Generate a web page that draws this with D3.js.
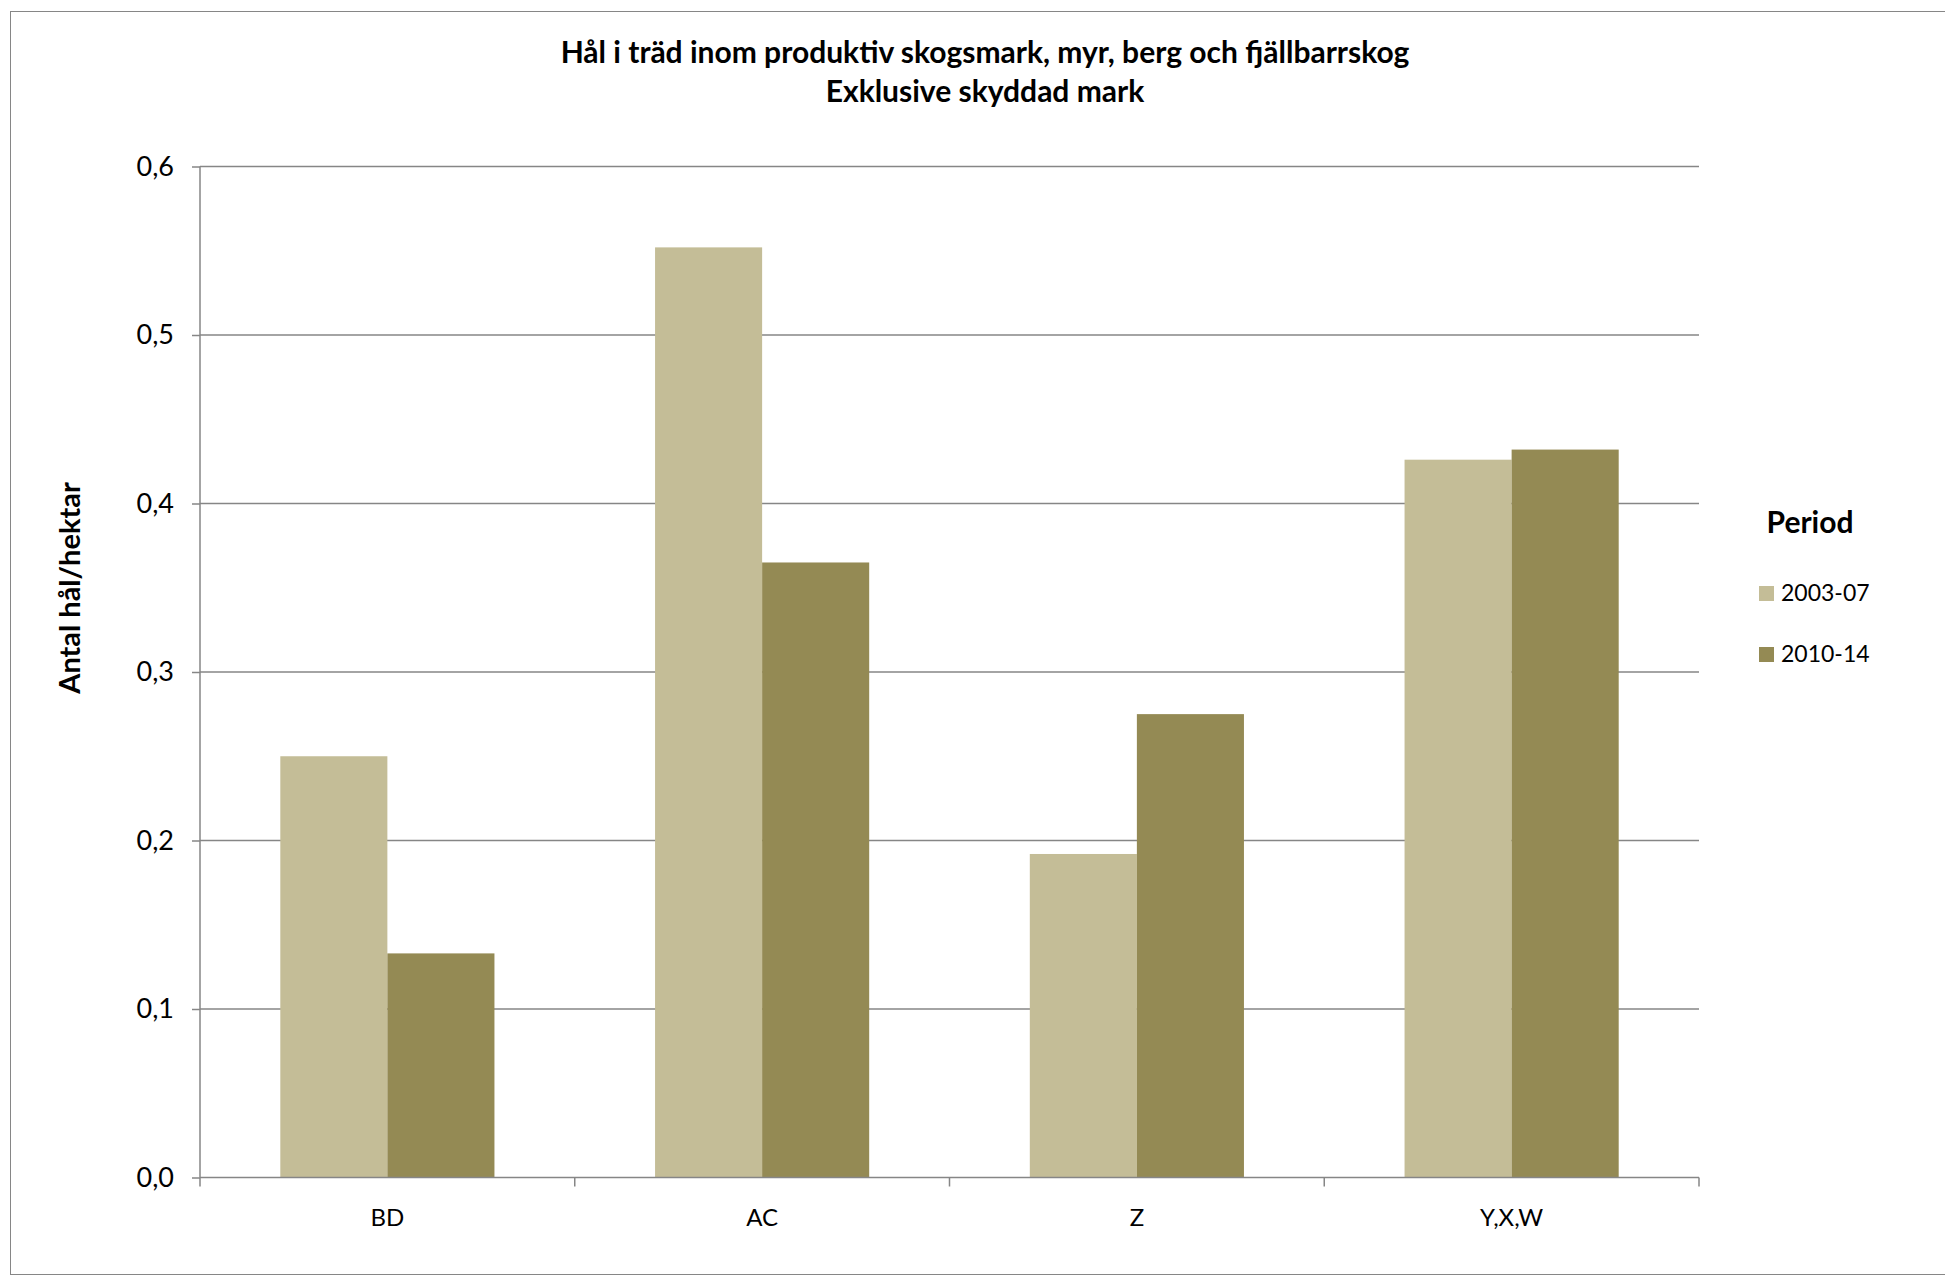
<!DOCTYPE html>
<html><head><meta charset="utf-8">
<script src="https://cdn.jsdelivr.net/npm/d3@7"></script>
<style>body{margin:0;background:#fff}svg{display:block}text{font-family:Lato,"Open Sans",sans-serif}</style>
</head><body><svg id="c" width="1945" height="1277"></svg>
<script>
const categories = ["BD", "AC", "Z", "Y,X,W"];
const series = ["2003-07", "2010-14"];
const values2003 = [0.250, 0.552, 0.192, 0.426];
const values2010 = [0.133, 0.365, 0.275, 0.432];
const yTicks = [0, 0.1, 0.2, 0.3, 0.4, 0.5, 0.6];
const colors = ["#C4BD97", "#948A54"];
const titleLines = ["Hål i träd inom produktiv skogsmark, myr, berg och fjällbarrskog", "Exklusive skyddad mark"];
const yLabel = "Antal hål/hektar";
const legendTitle = "Period";

const svg = d3.select("#c");
const m = {left: 200, right: 1699, top: 166.5, bottom: 1177.5};
svg.append("rect").attr("x", 10.5).attr("y", 11.5).attr("width", 1945).attr("height", 1263)
  .attr("fill", "#fff").attr("stroke", "#868686").attr("stroke-width", 1);

const x = d3.scaleBand().domain(categories).range([m.left, m.right]).paddingInner(0).paddingOuter(0);
const gapRatio = 1.5;
const barW = x.bandwidth() / (2 + gapRatio);
const y = d3.scaleLinear().domain([0, 0.6]).range([m.bottom, m.top]);

// gridlines
svg.append("g").selectAll("line").data(yTicks.filter(d => d > 0)).join("line")
  .attr("x1", m.left).attr("x2", m.right).attr("y1", d => y(d)).attr("y2", d => y(d))
  .attr("stroke", "#868686").attr("stroke-width", 1.5);

// bars
const data = [values2003, values2010];
data.forEach((vals, si) => {
  svg.append("g").selectAll("rect").data(categories).join("rect")
    .attr("x", (c) => x(c) + barW * gapRatio / 2 + si * barW)
    .attr("width", barW)
    .attr("y", (c, i) => y(vals[i]))
    .attr("height", (c, i) => y(0) - y(vals[i]))
    .attr("fill", colors[si]);
});

// y axis
const fmt = d => d3.format(".1f")(d).replace(".", ",");
const ya = svg.append("g").attr("transform", `translate(${m.left},0)`)
  .call(d3.axisLeft(y).tickValues(yTicks).tickFormat(fmt).tickSize(8).tickPadding(18));
ya.select(".domain").attr("stroke", "#868686").attr("stroke-width", 1.5).attr("d", `M0,${m.top}V${m.bottom}`);
ya.selectAll(".tick line").attr("stroke", "#868686").attr("stroke-width", 1.5);
ya.selectAll("text").attr("font-size", 27).attr("fill", "#000").style("font-family", "Lato");

// x axis
const xa = svg.append("g").attr("transform", `translate(0,${m.bottom})`);
xa.append("line").attr("x1", m.left).attr("x2", m.right).attr("stroke", "#868686").attr("stroke-width", 1.5);
const edges = categories.map(c => x(c)).concat([m.right]);
xa.selectAll("line.t").data(edges).join("line").attr("class", "t")
  .attr("x1", d => d).attr("x2", d => d).attr("y1", 0).attr("y2", 9)
  .attr("stroke", "#868686").attr("stroke-width", 1.5);
xa.selectAll("text").data(categories).join("text")
  .attr("x", c => x(c) + x.bandwidth() / 2).attr("y", 48)
  .attr("text-anchor", "middle").attr("font-size", 24).text(c => c);

// title
svg.append("g").selectAll("text").data(titleLines).join("text")
  .attr("x", 985).attr("y", (d, i) => 63 + i * 39)
  .attr("text-anchor", "middle").attr("font-size", 30).attr("font-weight", "bold").text(d => d);

// y label
svg.append("text").attr("transform", "translate(80,588) rotate(-90)")
  .attr("text-anchor", "middle").attr("font-size", 29).attr("font-weight", "bold").text(yLabel);

// legend
svg.append("text").attr("x", 1810).attr("y", 533).attr("text-anchor", "middle")
  .attr("font-size", 30).attr("font-weight", "bold").text(legendTitle);
const lg = svg.append("g").selectAll("g").data(series).join("g")
  .attr("transform", (d, i) => `translate(1759,${593 + i * 61})`);
lg.append("rect").attr("x", 0).attr("y", -7).attr("width", 15).attr("height", 15).attr("fill", (d, i) => colors[i]);
lg.append("text").attr("x", 22).attr("y", 8).attr("font-size", 23).text(d => d);
</script></body></html>
